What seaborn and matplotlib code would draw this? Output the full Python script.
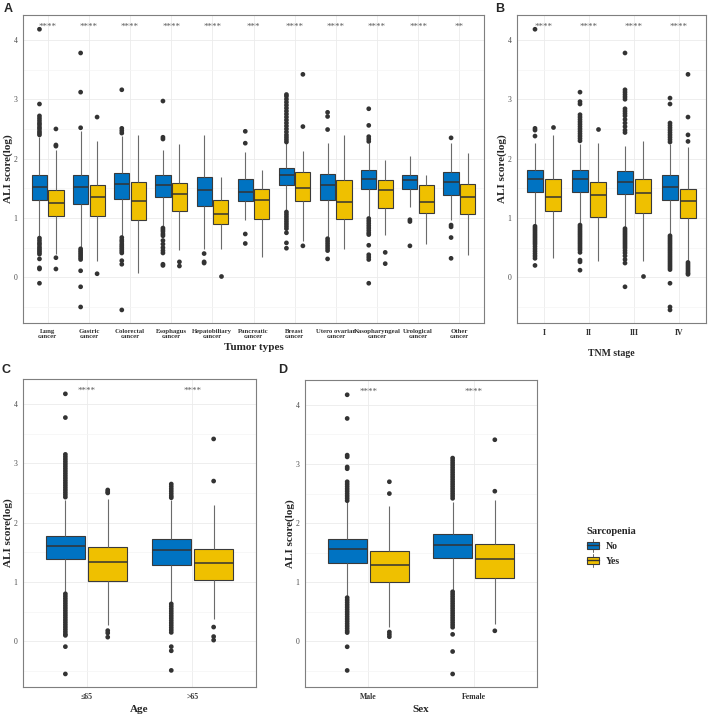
from __future__ import annotations

import matplotlib.pyplot as plt
import pandas as pd
import seaborn as sns
from matplotlib.legend_handler import HandlerBase
from matplotlib.lines import Line2D
from matplotlib.patches import Patch, Rectangle

# ---------------------------------------------------------------------
# Data (ALI score, log scale)
# box tuples are (lower whisker, Q1, median, Q3, upper whisker)
# ---------------------------------------------------------------------
GROUPS = ["No", "Yes"]
COLORS = {"No": "#0073C2", "Yes": "#EFC000"}

TUMOR_TYPES = [
    "Lung\ncancer", "Gastric\ncancer", "Colorectal\ncancer", "Esophagus\ncancer",
    "Hepatobiliary\ncancer", "Pancreatic\ncancer", "Breast\ncancer",
    "Utero ovarian\ncancer", "Nasopharyngeal\ncancer", "Urological\ncancer",
    "Other\ncancer",
]
TUMOR_NO_BOX = [
    (0.68, 1.30, 1.53, 1.73, 2.37), (0.50, 1.24, 1.52, 1.73, 2.46),
    (0.69, 1.32, 1.57, 1.76, 2.38), (0.86, 1.36, 1.55, 1.72, 2.15),
    (0.48, 1.20, 1.47, 1.69, 2.39), (0.97, 1.29, 1.44, 1.66, 2.11),
    (1.13, 1.55, 1.73, 1.84, 2.26), (0.68, 1.31, 1.55, 1.74, 2.26),
    (1.02, 1.48, 1.66, 1.81, 2.27), (1.18, 1.48, 1.64, 1.73, 2.04),
    (0.97, 1.39, 1.60, 1.77, 2.26),
]
TUMOR_YES_BOX = [
    (0.40, 1.03, 1.26, 1.47, 2.15), (0.28, 1.04, 1.35, 1.56, 2.29),
    (0.07, 0.97, 1.29, 1.61, 2.39), (0.46, 1.12, 1.40, 1.59, 2.25),
    (0.47, 0.89, 1.07, 1.30, 1.69), (0.35, 0.99, 1.31, 1.49, 1.81),
    (0.62, 1.29, 1.50, 1.77, 2.13), (0.48, 0.98, 1.27, 1.64, 2.40),
    (0.72, 1.17, 1.47, 1.64, 1.98), (0.56, 1.08, 1.27, 1.56, 1.72),
    (0.37, 1.06, 1.35, 1.58, 2.09),
]
TUMOR_NO_OUT = [
    [4.18, 2.92, 2.72, 2.68, 2.64, 2.60, 2.57, 2.53, 2.50, 2.46, 2.43, 2.40,
     0.66, 0.62, 0.58, 0.55, 0.51, 0.48, 0.45, 0.42, 0.39, 0.31, 0.16, 0.14, -0.10],
    [3.78, 3.12, 2.52, 0.48, 0.45, 0.42, 0.39, 0.36, 0.33, 0.30, 0.11, -0.16, -0.50],
    [3.16, 2.51, 2.47, 2.43, 0.67, 0.63, 0.60, 0.56, 0.53, 0.50, 0.47, 0.44, 0.41,
     0.28, 0.22, -0.55],
    [2.97, 2.36, 2.33, 0.83, 0.80, 0.77, 0.73, 0.70, 0.62, 0.56, 0.50, 0.45, 0.41,
     0.22, 0.20],
    [0.40, 0.26, 0.24],
    [2.46, 2.26, 0.73, 0.57],
    [3.08, 3.05, 3.00, 2.95, 2.90, 2.85, 2.80, 2.75, 2.70, 2.65, 2.60, 2.55, 2.50,
     2.45, 2.40, 2.36, 2.32, 2.28, 1.10, 1.06, 1.02, 0.98, 0.94, 0.90, 0.86, 0.82,
     0.75, 0.58, 0.49],
    [2.78, 2.71, 2.49, 0.65, 0.61, 0.57, 0.53, 0.49, 0.45, 0.31],
    [2.84, 2.56, 2.37, 2.33, 2.29, 0.99, 0.95, 0.91, 0.87, 0.83, 0.79, 0.75, 0.72,
     0.54, 0.38, 0.34, 0.30, -0.10],
    [0.97, 0.94, 0.53],
    [2.35, 0.88, 0.85, 0.67, 0.32],
]
TUMOR_YES_OUT = [
    [2.50, 2.23, 2.21, 0.33, 0.14], [2.70, 0.06], [], [0.26, 0.19], [0.02], [],
    [3.42, 2.54, 0.53], [], [0.42, 0.23], [], [],
]
TUMOR_SIGNIF = ["****", "****", "****", "****", "****", "***", "****", "****",
                "****", "****", "**"]

STAGES = ["I", "II", "III", "IV"]
STAGE_NO_BOX = [
    (0.88, 1.44, 1.65, 1.80, 2.27), (0.90, 1.44, 1.65, 1.81, 2.25),
    (0.83, 1.40, 1.61, 1.79, 2.21), (0.72, 1.31, 1.53, 1.72, 2.25),
]
STAGE_YES_BOX = [
    (0.32, 1.12, 1.36, 1.66, 2.40), (0.28, 1.01, 1.38, 1.60, 2.26),
    (0.28, 1.08, 1.42, 1.66, 2.29), (0.27, 1.00, 1.28, 1.49, 2.20),
]
STAGE_NO_OUT = [
    [4.18, 2.51, 2.48, 2.38, 0.86, 0.83, 0.80, 0.77, 0.74, 0.71, 0.68, 0.65, 0.62,
     0.59, 0.56, 0.52, 0.48, 0.44, 0.40, 0.36, 0.32, 0.20],
    [3.12, 2.96, 2.92, 2.74, 2.70, 2.66, 2.62, 2.58, 2.54, 2.50, 2.46, 2.42, 2.38,
     2.34, 2.30, 0.88, 0.85, 0.82, 0.79, 0.76, 0.73, 0.70, 0.67, 0.64, 0.61, 0.58,
     0.55, 0.52, 0.49, 0.46, 0.42, 0.29, 0.26, 0.12],
    [3.78, 3.16, 3.12, 3.08, 3.04, 3.00, 2.84, 2.80, 2.76, 2.72, 2.66, 2.60, 2.54,
     2.48, 2.44, 0.82, 0.79, 0.76, 0.73, 0.70, 0.67, 0.64, 0.61, 0.58, 0.55, 0.52,
     0.49, 0.45, 0.41, 0.36, 0.30, 0.24, -0.16],
    [3.02, 2.92, 2.60, 2.56, 2.52, 2.48, 2.44, 2.40, 2.36, 2.32, 2.28, 0.70, 0.67,
     0.64, 0.61, 0.58, 0.55, 0.52, 0.49, 0.46, 0.43, 0.40, 0.37, 0.34, 0.31, 0.28,
     0.25, 0.22, 0.19, 0.16, 0.13, -0.10, -0.50, -0.55],
]
STAGE_YES_OUT = [
    [2.54], [2.50], [0.02],
    [3.42, 2.70, 2.40, 2.29, 0.25, 0.22, 0.19, 0.16, 0.13, 0.10, 0.07, 0.05],
]
STAGE_SIGNIF = ["****", "****", "****", "****"]

AGES = ["≤65", ">65"]
AGE_NO_BOX = [(0.82, 1.39, 1.61, 1.78, 2.38), (0.66, 1.29, 1.54, 1.73, 2.38)]
AGE_YES_BOX = [(0.27, 1.02, 1.34, 1.59, 2.40), (0.37, 1.04, 1.32, 1.56, 2.29)]
AGE_NO_OUT = [
    [4.17, 3.77, 3.15, 3.11, 3.07, 3.03, 2.99, 2.95, 2.91, 2.87, 2.83, 2.79, 2.75,
     2.71, 2.67, 2.63, 2.59, 2.55, 2.51, 2.47, 2.43, 0.80, 0.76, 0.72, 0.68, 0.64,
     0.60, 0.56, 0.52, 0.48, 0.44, 0.40, 0.36, 0.32, 0.28, 0.24, 0.20, 0.16, 0.12,
     0.10, -0.09, -0.55],
    [2.65, 2.61, 2.57, 2.53, 2.49, 2.45, 2.42, 0.63, 0.59, 0.55, 0.51, 0.47, 0.43,
     0.39, 0.35, 0.31, 0.27, 0.23, 0.19, 0.15, -0.09, -0.16, -0.49],
]
AGE_YES_OUT = [[2.55, 2.52, 2.50, 0.18, 0.14, 0.07], [3.41, 2.70, 0.24, 0.08, 0.02]]
AGE_SIGNIF = ["****", "****"]

SEXES = ["Male", "Female"]
SEX_NO_BOX = [(0.75, 1.33, 1.56, 1.74, 2.36), (0.86, 1.41, 1.63, 1.81, 2.36)]
SEX_YES_BOX = [(0.24, 1.00, 1.29, 1.53, 2.29), (0.30, 1.08, 1.39, 1.65, 2.39)]
SEX_NO_OUT = [
    [4.17, 3.77, 3.15, 3.12, 2.95, 2.92, 2.70, 2.66, 2.62, 2.58, 2.54, 2.50, 2.46,
     2.42, 2.38, 0.74, 0.70, 0.66, 0.62, 0.58, 0.54, 0.50, 0.46, 0.42, 0.38, 0.34,
     0.30, 0.26, 0.22, 0.18, 0.15, -0.09, -0.49],
    [3.10, 3.06, 3.02, 2.98, 2.94, 2.90, 2.86, 2.82, 2.78, 2.74, 2.70, 2.66, 2.62,
     2.58, 2.54, 2.50, 2.46, 2.42, 0.84, 0.80, 0.76, 0.72, 0.68, 0.64, 0.60, 0.56,
     0.52, 0.48, 0.44, 0.40, 0.36, 0.32, 0.28, 0.24, 0.12, -0.17, -0.55],
]
SEX_YES_OUT = [[2.70, 2.50, 0.16, 0.12, 0.08], [3.41, 2.54, 0.18]]
SEX_SIGNIF = ["****", "****"]

SERIF = ["Liberation Serif", "DejaVu Serif"]


class BoxKey(HandlerBase):
    """Legend key drawn as a tiny boxplot, like ggplot2."""

    def create_artists(self, legend, orig_handle, xdescent, ydescent,
                       width, height, fontsize, trans):
        x0, y0 = -xdescent, -ydescent
        cx, cy = x0 + width / 2, y0 + height / 2
        box = Rectangle((x0 + 0.05 * width, y0 + 0.1 * height), 0.9 * width,
                        0.8 * height, facecolor=orig_handle.get_facecolor(),
                        edgecolor="#3a3a3a", lw=0.8, transform=trans)
        med = Line2D([x0 + 0.05 * width, x0 + 0.95 * width], [cy, cy],
                     color="#333333", lw=1.0, transform=trans)
        up = Line2D([cx, cx], [y0 + 0.9 * height, y0 + 1.2 * height],
                    color="#6b6b6b", lw=0.7, transform=trans)
        lo = Line2D([cx, cx], [y0 - 0.2 * height, y0 + 0.1 * height],
                    color="#6b6b6b", lw=0.7, transform=trans)
        return [up, lo, box, med]


def _long(categories, no_vals, yes_vals):
    rows = []
    for cat, a, b in zip(categories, no_vals, yes_vals):
        rows += [(cat, "No", v) for v in a]
        rows += [(cat, "Yes", v) for v in b]
    return pd.DataFrame(rows, columns=["x", "group", "value"])


def draw_panel(ax, categories, no_box, yes_box, no_out, yes_out, signif,
               xlabel, xlabel_size=8, xlabel_pad=3, xtick_size=5.6):
    box_df = _long(categories, no_box, yes_box)
    out_df = _long(categories, no_out, yes_out)

    sns.boxplot(data=box_df, x="x", y="value", hue="group", order=categories,
                hue_order=GROUPS, palette=COLORS, saturation=1, width=0.8,
                gap=0.08, whis=(0, 100), showfliers=False, showcaps=False,
                linecolor="#3a3a3a", linewidth=0.8,
                whiskerprops={"color": "#6b6b6b"},
                medianprops={"color": "#333333", "linewidth": 1.1},
                legend=False, ax=ax)
    sns.stripplot(data=out_df, x="x", y="value", hue="group", order=categories,
                  hue_order=GROUPS, palette={"No": "#333333", "Yes": "#333333"},
                  dodge=True, jitter=False, size=3.4, linewidth=0,
                  legend=False, ax=ax)

    for i, s in enumerate(signif):
        ax.text(i, 4.22, s, ha="center", va="center", fontsize=6.5,
                color="#5a5a5a", family=SERIF)

    ax.set_xlim(-0.6, len(categories) - 0.4)
    ax.set_ylim(-0.77, 4.42)
    ax.set_yticks([0, 1, 2, 3, 4])
    ax.set_yticks([-0.5, 0.5, 1.5, 2.5, 3.5], minor=True)
    ax.grid(which="major", color="#EBEBEB", lw=0.6)
    ax.grid(which="minor", axis="y", color="#F4F4F4", lw=0.5)
    ax.set_axisbelow(True)
    for sp in ax.spines.values():
        sp.set_color("#7f7f7f")
        sp.set_linewidth(0.8)
    ax.tick_params(which="major", length=2.2, width=0.6, color="#7f7f7f",
                   pad=1.8, labelsize=5.6, labelcolor="#4d4d4d")
    ax.tick_params(which="minor", length=0)
    ax.tick_params(axis="x", labelsize=xtick_size)
    for lab in ax.get_xticklabels():
        lab.set_fontweight("bold")
        lab.set_color("#333333")
        lab.set_linespacing(1.05)
    ax.set_ylabel("ALI score(log)", fontsize=8, fontweight="bold", labelpad=0.5)
    ax.set_xlabel(xlabel, fontsize=xlabel_size, fontweight="bold",
                  labelpad=xlabel_pad)


def main() -> None:
    sns.set_theme(style="white")
    plt.rcParams["font.family"] = SERIF

    fig = plt.figure(figsize=(7.08, 7.16), dpi=100)
    W, H = 708, 716

    def rect(x0, y0, x1, y1):
        return [x0 / W, 1 - y1 / H, (x1 - x0) / W, (y1 - y0) / H]

    ax_a = fig.add_axes(rect(23, 15, 484, 323))
    ax_b = fig.add_axes(rect(517, 15, 706, 323))
    ax_c = fig.add_axes(rect(23, 379, 256, 687))
    ax_d = fig.add_axes(rect(305, 380, 537, 687))

    draw_panel(ax_a, TUMOR_TYPES, TUMOR_NO_BOX, TUMOR_YES_BOX, TUMOR_NO_OUT,
               TUMOR_YES_OUT, TUMOR_SIGNIF, "Tumor types", xtick_size=4.9)
    draw_panel(ax_b, STAGES, STAGE_NO_BOX, STAGE_YES_BOX, STAGE_NO_OUT,
               STAGE_YES_OUT, STAGE_SIGNIF, "TNM stage", xlabel_size=7,
               xlabel_pad=9)
    draw_panel(ax_c, AGES, AGE_NO_BOX, AGE_YES_BOX, AGE_NO_OUT, AGE_YES_OUT,
               AGE_SIGNIF, "Age")
    draw_panel(ax_d, SEXES, SEX_NO_BOX, SEX_YES_BOX, SEX_NO_OUT, SEX_YES_OUT,
               SEX_SIGNIF, "Sex")

    # panel letters
    for letter, x, y in [("A", 8, 9), ("B", 500, 9), ("C", 6, 370), ("D", 283, 370)]:
        fig.text(x / W, 1 - y / H, letter, fontsize=9, fontweight="bold",
                 family=["Liberation Sans", "DejaVu Sans"], ha="center", va="center")

    # legend
    handles = [Patch(facecolor=COLORS[g]) for g in GROUPS]
    leg = fig.legend(handles, GROUPS, handler_map={Patch: BoxKey()},
                     loc="upper left", bbox_to_anchor=(578 / W, 1 - 518 / H),
                     frameon=False, title="Sarcopenia", alignment="left",
                     fontsize=7, handlelength=1.3, handleheight=1.0,
                     handletextpad=0.7, labelspacing=0.55,
                     title_fontproperties={"weight": "bold", "size": 7.6,
                                           "family": SERIF})
    for t in leg.get_texts():
        t.set_fontweight("bold")

    fig.savefig("out.png", dpi=100)


if __name__ == "__main__":
    main()
